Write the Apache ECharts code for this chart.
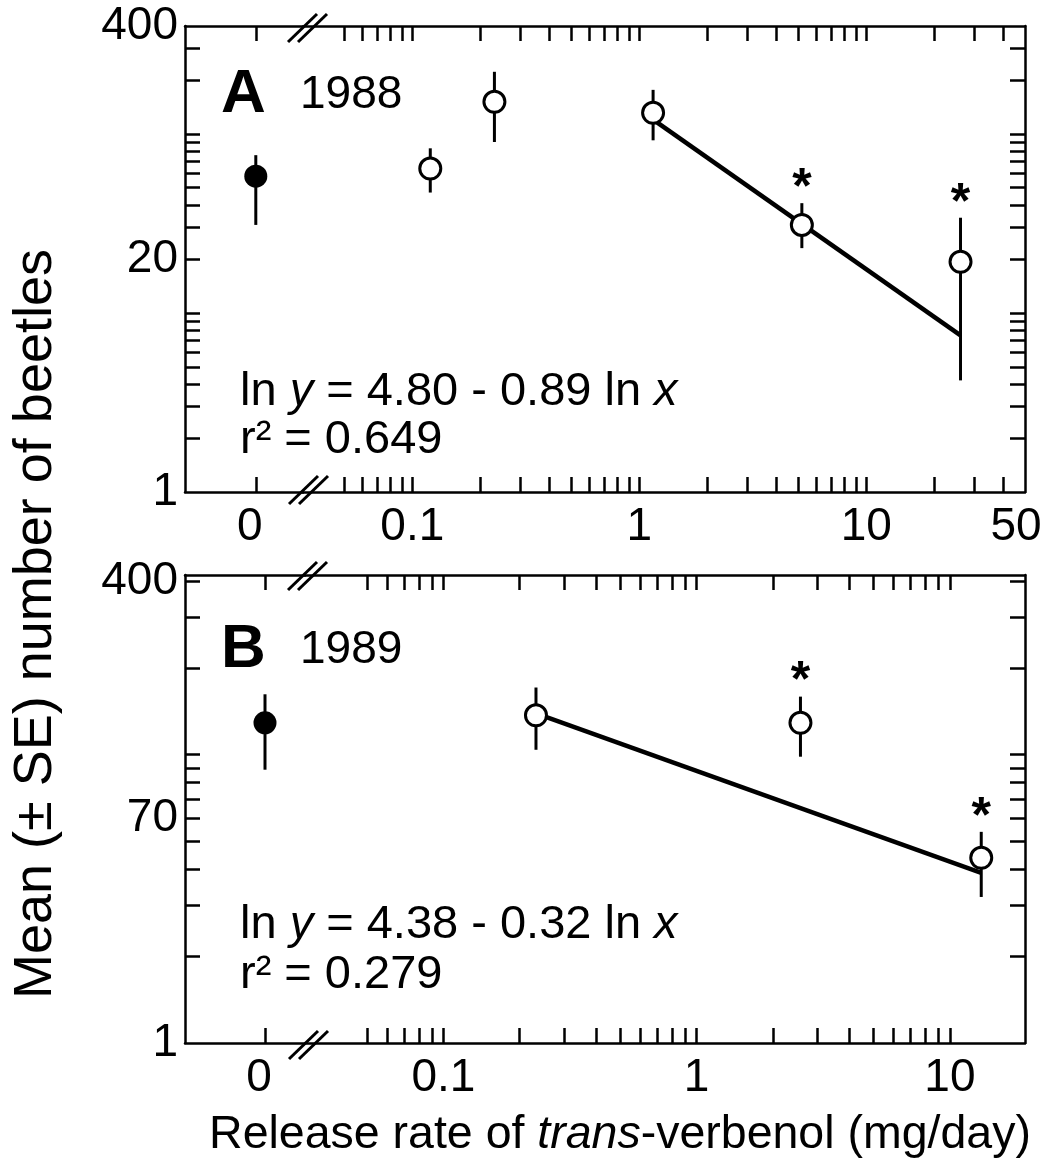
<!DOCTYPE html>
<html><head><meta charset="utf-8">
<script src="https://cdn.jsdelivr.net/npm/echarts@6/dist/echarts.min.js"></script>
<style>html,body{margin:0;padding:0;background:#fff}#c{width:1048px;height:1164px}</style>
</head><body><div id="c"></div>
<script>
// ---------------- data ----------------
// Panel A (1988)
const ratesA   = [0.12, 0.23, 1.15, 5.2, 26];
const meansA   = [64, 151, 131, 31, 19.3];
const lowA     = [47, 90, 92, 23, 4.2];
const highA    = [83, 222, 176, 41, 34];
const sigA     = [false, false, false, true, true];
const controlA = [58, 31, 76];            // mean, low, high at release rate 0
const fitA     = [[1.15, 120], [26, 7.5]];
const eqA      = ['4.80', '0.89', '0.649'];
// Panel B (1989)
const ratesB   = [0.232, 2.57, 13.3];
const meansB   = [137, 129, 43.9];
const lowB     = [104, 98.4, 32.1];
const highB    = [171, 159, 54];
const sigB     = [false, true, true];
const controlB = [129, 88.7, 162];
const fitB     = [[0.232, 139], [13.3, 38.9]];
const eqB      = ['4.38', '0.32', '0.279'];

// axis ticks / labels
const xTicksA = [0.05,0.06,0.07,0.08,0.09,0.1,0.2,0.3,0.4,0.5,0.6,0.7,0.8,0.9,1,2,3,4,5,6,7,8,9,10,20,30,40];
const xTicksB = [0.05,0.06,0.07,0.08,0.09,0.1,0.2,0.3,0.4,0.5,0.6,0.7,0.8,0.9,1,2,3,4,5,6,7,8,9,10];
const xLabelValsA = [0.1, 1, 10, 50];
const xLabelTxtA  = ['0.1', '1', '10', '50'];
const xLabelValsB = [0.1, 1, 10];
const xLabelTxtB  = ['0.1', '1', '10'];
const yTicksA = [2,3,4,5,6,7,8,9,10,20,30,40,50,60,70,80,90,100,200,300];
const yTicksB = [20,30,40,50,60,70,80,90,100,200,300,400];
const yLabelValsA = [1, 20, 400];
const yLabelTxtA  = ['1', '20', '400'];
const yLabelValsB = [10, 60, 400];
const yLabelTxtB  = ['1', '70', '400'];
const panelNames = ['A', 'B'];
const years = ['1988', '1989'];
const yTitle = 'Mean (\u00b1 SE) number of beetles';

// ---------------- chart ----------------
const FONT = '"Liberation Sans", Arial, Helvetica, sans-serif';
const FS = 46;   // tick labels
const FA = 47;   // annotations
const chart = echarts.init(document.getElementById('c'), null, {renderer: 'canvas'});

function lineStyle(){ return {show:true, onZero:false, lineStyle:{color:'#000', width:2.5}}; }
function tickStyle(vals){ return {show:true, inside:true, length:15, customValues: vals, lineStyle:{color:'#000', width:2.5}}; }
function fmt(vals, txt){
  return v => {
    for (let i = 0; i < vals.length; i++) {
      if (Math.abs(v - vals[i]) < 1e-6 * Math.max(1, vals[i])) {
        if (txt[i] === '50') return '{e|50}';
        if (txt[i] === '0') return '{z|0}';
        return txt[i];
      }
    }
    return '';
  };
}
function labelStyle(vals, txt, margin){
  return {show:true, customValues: vals, formatter: fmt(vals, txt), color:'#000', fontSize:FS, fontFamily:FONT, margin: margin,
          rich:{e:{fontSize:FS, fontFamily:FONT, color:'#000', padding:[0,18,0,0]},
                z:{fontSize:FS, fontFamily:FONT, color:'#000', padding:[0,12,0,0]}}};
}

const grids = [
  {left:185, top:26, width:118, height:466},
  {left:303, top:26, width:722, height:466},
  {left:185, top:575, width:120, height:468},
  {left:305, top:575, width:720, height:468}
];

function xPair(grid, type, min, max, ticks, lv, lt){
  const base = {gridIndex:grid, type:type, min:min, max:max, axisLine:lineStyle(), splitLine:{show:false}, axisTick:tickStyle(ticks)};
  return [
    Object.assign({}, base, {position:'bottom', axisLabel: labelStyle(lv, lt, 12)}),
    Object.assign({}, base, {position:'top', axisLabel:{show:false}, axisTick:tickStyle(ticks)})
  ];
}
const xAxes = [].concat(
  xPair(0, 'value', -1.5, 1, [0], [0], ['0']),
  xPair(1, 'log', 0.033, 50, xTicksA, xLabelValsA, xLabelTxtA),
  xPair(2, 'value', -2, 1, [0], [0], ['0']),
  xPair(3, 'log', 0.0284, 19.8, xTicksB, xLabelValsB, xLabelTxtB)
);
const yAxes = [
  {gridIndex:0, type:'log', min:1, max:400, position:'left', axisLine:lineStyle(), splitLine:{show:false}, axisTick:tickStyle(yTicksA), axisLabel:labelStyle(yLabelValsA, yLabelTxtA, 7)},
  {gridIndex:1, type:'log', min:1, max:400, position:'right', axisLine:lineStyle(), splitLine:{show:false}, axisTick:tickStyle(yTicksA), axisLabel:{show:false}},
  {gridIndex:2, type:'log', min:10, max:420, position:'left', axisLine:lineStyle(), splitLine:{show:false}, axisTick:tickStyle(yTicksB), axisLabel:labelStyle(yLabelValsB, yLabelTxtB, 7)},
  {gridIndex:3, type:'log', min:10, max:420, position:'right', axisLine:lineStyle(), splitLine:{show:false}, axisTick:tickStyle(yTicksB), axisLabel:{show:false}}
];

function errSeries(xi, yi, data){
  return {type:'custom', xAxisIndex:xi, yAxisIndex:yi, z:2, data:data, encode:{x:0, y:[1,2]},
    renderItem:(p, api) => {
      const a = api.coord([api.value(0), api.value(1)]);
      const b = api.coord([api.value(0), api.value(2)]);
      return {type:'line', shape:{x1:a[0], y1:a[1], x2:b[0], y2:b[1]}, style:{stroke:'#000', lineWidth:3}};
    }};
}
function starSeries(xi, yi, data){
  return {type:'custom', xAxisIndex:xi, yAxisIndex:yi, z:5, data:data, encode:{x:0, y:1},
    renderItem:(p, api) => {
      const a = api.coord([api.value(0), api.value(1)]);
      return {type:'text', x:a[0], y:a[1]-14, style:{text:'*', font:'bold 50px ' + FONT, fill:'#000', align:'center', verticalAlign:'middle'}};
    }};
}
function scatter(xi, yi, data, filled){
  return {type:'scatter', xAxisIndex:xi, yAxisIndex:yi, z:4, data:data, symbol:'circle', symbolSize: filled ? 23 : 21,
    itemStyle:{color: filled ? '#000' : '#fff', borderColor:'#000', borderWidth: filled ? 0 : 3, opacity:1}};
}
function fitSeries(xi, yi, data){
  return {type:'line', xAxisIndex:xi, yAxisIndex:yi, z:3, data:data, symbol:'none', lineStyle:{color:'#000', width:4.5}};
}

function panelSeries(xl, yl, xr, yr, rates, means, low, high, sig, control, fit){
  const err = rates.map((r,i) => [r, low[i], high[i]]);
  const pts = rates.map((r,i) => [r, means[i]]);
  const stars = rates.map((r,i) => [r, high[i]]).filter((d,i) => sig[i]);
  return [
    errSeries(xl, yl, [[0, control[1], control[2]]]),
    errSeries(xr, yr, err),
    fitSeries(xr, yr, fit),
    scatter(xl, yl, [[0, control[0]]], true),
    scatter(xr, yr, pts, false),
    starSeries(xr, yr, stars)
  ];
}

const series = [].concat(
  panelSeries(0, 0, 2, 1, ratesA, meansA, lowA, highA, sigA, controlA, fitA),
  panelSeries(4, 2, 6, 3, ratesB, meansB, lowB, highB, sigB, controlB, fitB)
);

function breakMark(cx, cy){
  const ls = {stroke:'#000', lineWidth:3};
  return [
    {type:'line', shape:{x1:cx-19, y1:cy+14, x2:cx+10, y2:cy-14}, style:ls, z:10},
    {type:'line', shape:{x1:cx-9, y1:cy+14, x2:cx+20, y2:cy-14}, style:ls, z:10}
  ];
}
function txt(x, y, text, font){
  return {type:'text', x:x, y:y, z:10, style:{text:text, font:font, fill:'#000', align:'left', verticalAlign:'middle'}};
}
function richStyle(fs){
  return {n:{fontSize:fs, fontFamily:FONT, fill:'#000'}, i:{fontSize:fs, fontFamily:FONT, fontStyle:'italic', fill:'#000'}};
}
function eqText(x, y, eq){
  return {type:'text', x:x, y:y, z:10, style:{text:'{n|ln }{i|y}{n| = ' + eq[0] + ' - ' + eq[1] + ' ln }{i|x}', rich:richStyle(FA), align:'left', verticalAlign:'middle'}};
}

const graphic = [].concat(
  breakMark(307, 28), breakMark(308, 490), breakMark(307, 576), breakMark(308, 1045),
  [
    txt(221, 95, panelNames[0], 'bold 62px ' + FONT),
    txt(300, 95, years[0], '46px ' + FONT),
    eqText(240, 392, eqA),
    txt(240, 440, 'r\u00b2 = ' + eqA[2], FA + 'px ' + FONT),
    txt(221, 650, panelNames[1], 'bold 62px ' + FONT),
    txt(300, 650, years[1], '46px ' + FONT),
    eqText(240, 925, eqB),
    txt(240, 975, 'r\u00b2 = ' + eqB[2], FA + 'px ' + FONT),
    {type:'text', x:36, y:624, rotation:Math.PI/2, z:10, style:{text:yTitle, font:'54px ' + FONT, fill:'#000', align:'center', verticalAlign:'middle'}},
    {type:'text', x:620, y:1135, z:10, style:{text:'{n|Release rate of }{i|trans}{n|-verbenol (mg/day)}', rich:richStyle(46.5), align:'center', verticalAlign:'middle'}}
  ]
);

chart.setOption({
  animation:false,
  backgroundColor:'#fff',
  grid:grids,
  xAxis:xAxes,
  yAxis:yAxes,
  series:series,
  graphic:graphic
});
</script></body></html>
